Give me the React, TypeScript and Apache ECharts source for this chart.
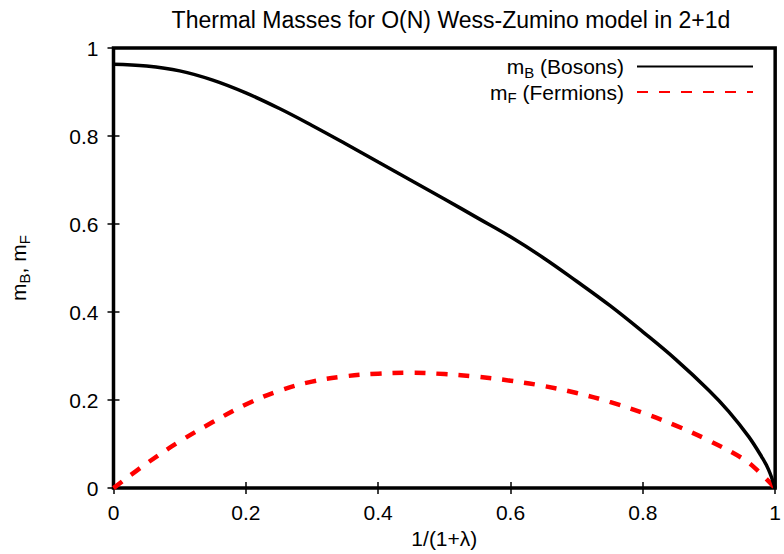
import React, { useEffect, useRef } from "react";
import * as echarts from "echarts";

const TITLE = "Thermal Masses for O(N) Wess-Zumino model in 2+1d";
const X_NAME = "1/(1+λ)";

const bosonX = [0, 0.05, 0.1, 0.15, 0.2, 0.25, 0.3, 0.35, 0.4, 0.45, 0.5, 0.55, 0.6, 0.65, 0.7, 0.75, 0.8, 0.85, 0.9, 0.93, 0.96, 0.98, 0.99, 1.0];
const bosonY = [0.963, 0.959, 0.948, 0.927, 0.898, 0.863, 0.824, 0.783, 0.741, 0.699, 0.657, 0.614, 0.571, 0.523, 0.470, 0.415, 0.355, 0.292, 0.222, 0.174, 0.117, 0.070, 0.042, 0.0];

const fermionX = [0, 0.05, 0.1, 0.15, 0.2, 0.25, 0.3, 0.35, 0.4, 0.45, 0.5, 0.55, 0.6, 0.65, 0.7, 0.75, 0.8, 0.85, 0.9, 0.95, 0.97, 1.0];
const fermionY = [0, 0.056, 0.106, 0.150, 0.190, 0.221, 0.242, 0.254, 0.260, 0.262, 0.259, 0.253, 0.244, 0.232, 0.216, 0.196, 0.171, 0.142, 0.108, 0.068, 0.045, 0.0];

const SERIES_NAMES = ["mB (Bosons)", "mF (Fermions)"];
const LEGEND_RICH = ["{a|m}{s|B}{a| (Bosons)}{g| }", "{a|m}{s|F}{a| (Fermions)}{g| }"];

const FONT = "'Liberation Sans', Arial, Helvetica, sans-serif";
const FS = 21;

export default function App() {
  const ref = useRef<HTMLDivElement>(null);
  useEffect(() => {
    if (!ref.current) return;
    const chart = echarts.init(ref.current, null, { renderer: "svg" });
    const rich = {
      a: { fontSize: FS, fontFamily: FONT, color: "#000", lineHeight: 26, verticalAlign: "middle" },
      s: { fontSize: 15, fontFamily: FONT, color: "#000", lineHeight: 15, verticalAlign: "bottom" },
      g: { width: 8, fontSize: FS, fontFamily: FONT, lineHeight: 26 },
    };
    const tick = { show: true, inside: true, length: 6, lineStyle: { color: "#000", width: 1.5 } };
    const labelStyle = { color: "#000", fontSize: FS, fontFamily: FONT };
    chart.setOption({
      animation: false,
      backgroundColor: "#fff",
      title: {
        text: TITLE,
        left: 446,
        textAlign: "center",
        top: 3,
        textStyle: { color: "#000", fontSize: 23, fontWeight: "normal", fontFamily: FONT },
      },
      grid: {
        left: 112,
        right: 4,
        top: 48,
        bottom: 61,
        show: true,
        borderColor: "#000",
        borderWidth: 3.5,
        backgroundColor: "transparent",
      },
      legend: {
        orient: "vertical",
        right: 25,
        top: 51,
        align: "right",
        itemWidth: 116,
        itemHeight: 14,
        itemGap: 2,
        data: SERIES_NAMES,
        itemStyle: { opacity: 0 },
        formatter: (name: string) => LEGEND_RICH[SERIES_NAMES.indexOf(name)],
        textStyle: { rich },
      },
      xAxis: [
        {
          type: "value",
          min: 0,
          max: 1,
          interval: 0.2,
          position: "bottom",
          name: X_NAME,
          nameLocation: "middle",
          nameGap: 39,
          nameTextStyle: { color: "#000", fontSize: FS, fontFamily: FONT },
          axisLine: { show: false },
          axisTick: tick,
          axisLabel: { ...labelStyle, margin: 14, showMinLabel: true, showMaxLabel: true, formatter: (v: number) => String(+v.toFixed(1)) },
          splitLine: { show: false },
        },
        {
          type: "value",
          min: 0,
          max: 1,
          interval: 0.2,
          position: "top",
          axisLine: { show: false },
          axisTick: tick,
          axisLabel: { show: false },
          splitLine: { show: false },
        },
      ],
      yAxis: [
        {
          type: "value",
          min: 0,
          max: 1,
          interval: 0.2,
          position: "left",
          name: "{a|m}{s|B}{a|, m}{s|F}",
          nameLocation: "middle",
          nameRotate: 90,
          nameGap: 82,
          nameTextStyle: { rich },
          axisLine: { show: false },
          axisTick: tick,
          axisLabel: { ...labelStyle, margin: 15, formatter: (v: number) => String(+v.toFixed(1)) },
          splitLine: { show: false },
        },
        {
          type: "value",
          min: 0,
          max: 1,
          interval: 0.2,
          position: "right",
          axisLine: { show: false },
          axisTick: tick,
          axisLabel: { show: false },
          splitLine: { show: false },
        },
      ],
      series: [
        {
          name: SERIES_NAMES[0],
          type: "line",
          data: bosonX.map((x, i) => [x, bosonY[i]]),
          showSymbol: false,
          symbol: "none",
          smooth: 0.4,
          lineStyle: { color: "#000", width: 3.5 },
          itemStyle: { color: "#000" },
          z: 3,
        },
        {
          name: SERIES_NAMES[1],
          type: "line",
          data: fermionX.map((x, i) => [x, fermionY[i]]),
          showSymbol: false,
          symbol: "none",
          smooth: 0.4,
          lineStyle: { color: "#ff0000", width: 4.5, type: [11, 11] },
          itemStyle: { color: "#ff0000" },
          z: 2,
        },
      ],
    });
    return () => chart.dispose();
  }, []);
  return <div ref={ref} style={{ position: "absolute", left: 0, top: 0, width: 784, height: 554 }} />;
}
